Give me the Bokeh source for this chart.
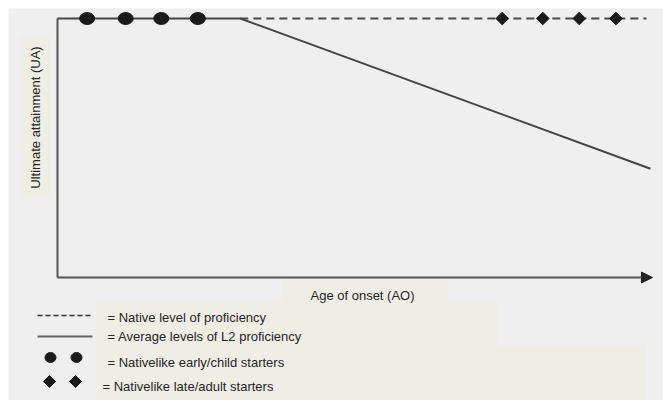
import numpy as np
from bokeh.plotting import figure
from bokeh.models import Range1d, Arrow, NormalHead, BoxAnnotation
from bokeh.core.properties import value
from bokeh.embed import file_html
from bokeh.resources import INLINE

# ---- data (schematic values) ----
native_level = 100.0                 # native level of proficiency (UA)
age_axis_max = 60.2                  # end of the age-of-onset axis
l2_age = [0.0, 18.5, 60.0]           # average L2 proficiency line (AO)
l2_ua = [100.0, 100.0, 42.0]         # average L2 proficiency line (UA)
native_age = [18.5, 59.6]            # dashed native level continuation
native_ua = [100.0, 100.0]
early_age = [3.0, 6.9, 10.5, 14.2]   # nativelike early/child starters
early_ua = [100.0, 100.0, 100.0, 100.0]
late_age = [45.0, 49.1, 52.8, 56.5]  # nativelike late/adult starters
late_ua = [100.0, 100.0, 100.0, 100.0]

legend_labels = [
    "= Native level of proficiency",
    "= Average levels of L2 proficiency",
    "= Nativelike  early/child starters",
    "= Nativelike late/adult starters",
]
x_label = "Age of onset (AO)"
y_label = "Ultimate attainment (UA)"

# ---- layout helpers (page pixel -> data) ----
W, H = 663, 400
M = 8
FW, FH = W - M, H - M
X0, PXY = 49.0, 9.883
Y0, PUA = 269.0, 2.59
def dx(px):
    return (px - M - X0) / PXY
def dy(py):
    return (Y0 - (py - M)) / PUA

p = figure(width=W, height=H, output_backend="svg", toolbar_location=None,
           x_range=Range1d(-X0 / PXY, (FW - X0) / PXY),
           y_range=Range1d(-(FH - Y0) / PUA, Y0 / PUA),
           min_border_left=M, min_border_top=M, min_border_right=0,
           min_border_bottom=0)
p.axis.visible = False
p.grid.visible = False
p.outline_line_color = None
p.background_fill_color = "#efefef"
p.border_fill_color = "white"

ylw = "#eeeee5"
for l, r, t, b in [(20, 50, 35, 197), (282, 447, 278, 300),
                   (95, 497, 300, 345), (95, 645, 345, 400)]:
    p.add_layout(BoxAnnotation(left=dx(l), right=dx(r), top=dy(t), bottom=dy(b),
                               fill_color=ylw, fill_alpha=1.0, line_color=None,
                               level="underlay"))

axis_col = "#555555"
# vertical axis
p.line([0, 0], [0, native_level], line_color=axis_col, line_width=2)
# horizontal axis with arrow
p.add_layout(Arrow(end=NormalHead(size=11, fill_color="#222222", line_color="#222222"),
                   x_start=0, y_start=0, x_end=age_axis_max, y_end=0,
                   line_color=axis_col, line_width=2))
# dashed native level
p.line(native_age, native_ua, line_color="#4a4a4a", line_width=2, line_dash="8 5")
# L2 average line
p.line(l2_age, l2_ua, line_color="#444444", line_width=2)
# markers
p.ellipse(early_age, early_ua, width=15, height=12, width_units="screen",
          height_units="screen", fill_color="#1a1a1a", line_color="#1a1a1a")
p.scatter(late_age, late_ua, marker="square", angle=np.pi / 4, size=9,
          fill_color="#1a1a1a", line_color="#1a1a1a")

font = value("Liberation Sans")
tcol = "#262626"
fs = "13px"
p.text([dx(362)], [dy(295)], text=[x_label], text_font=font, text_font_size=fs,
       text_color=tcol, text_align="center", text_baseline="middle")
p.text([dx(35)], [dy(117)], text=[y_label], text_font=font, text_font_size=fs,
       text_color=tcol, text_align="center", text_baseline="middle", angle=np.pi / 2)

# legend
p.line([dx(37), dx(92)], [dy(315), dy(315)], line_color="#333333", line_width=1.3,
       line_dash="5 3")
p.line([dx(37), dx(92)], [dy(336), dy(336)], line_color="#666666", line_width=2)
p.ellipse([dx(50), dx(76)], [dy(357), dy(357)], width=11, height=10,
          width_units="screen", height_units="screen",
          fill_color="#1a1a1a", line_color="#1a1a1a")
p.scatter([dx(49), dx(75)], [dy(381), dy(381)], marker="square", angle=np.pi / 4,
          size=8.5, fill_color="#1a1a1a", line_color="#1a1a1a")
p.text([dx(107), dx(107), dx(107), dx(102)],
       [dy(317), dy(336), dy(362), dy(386)], text=legend_labels,
       text_font=font, text_font_size=fs, text_color=tcol,
       text_align="left", text_baseline="middle")

open("out.html", "w").write(file_html(p, INLINE))
